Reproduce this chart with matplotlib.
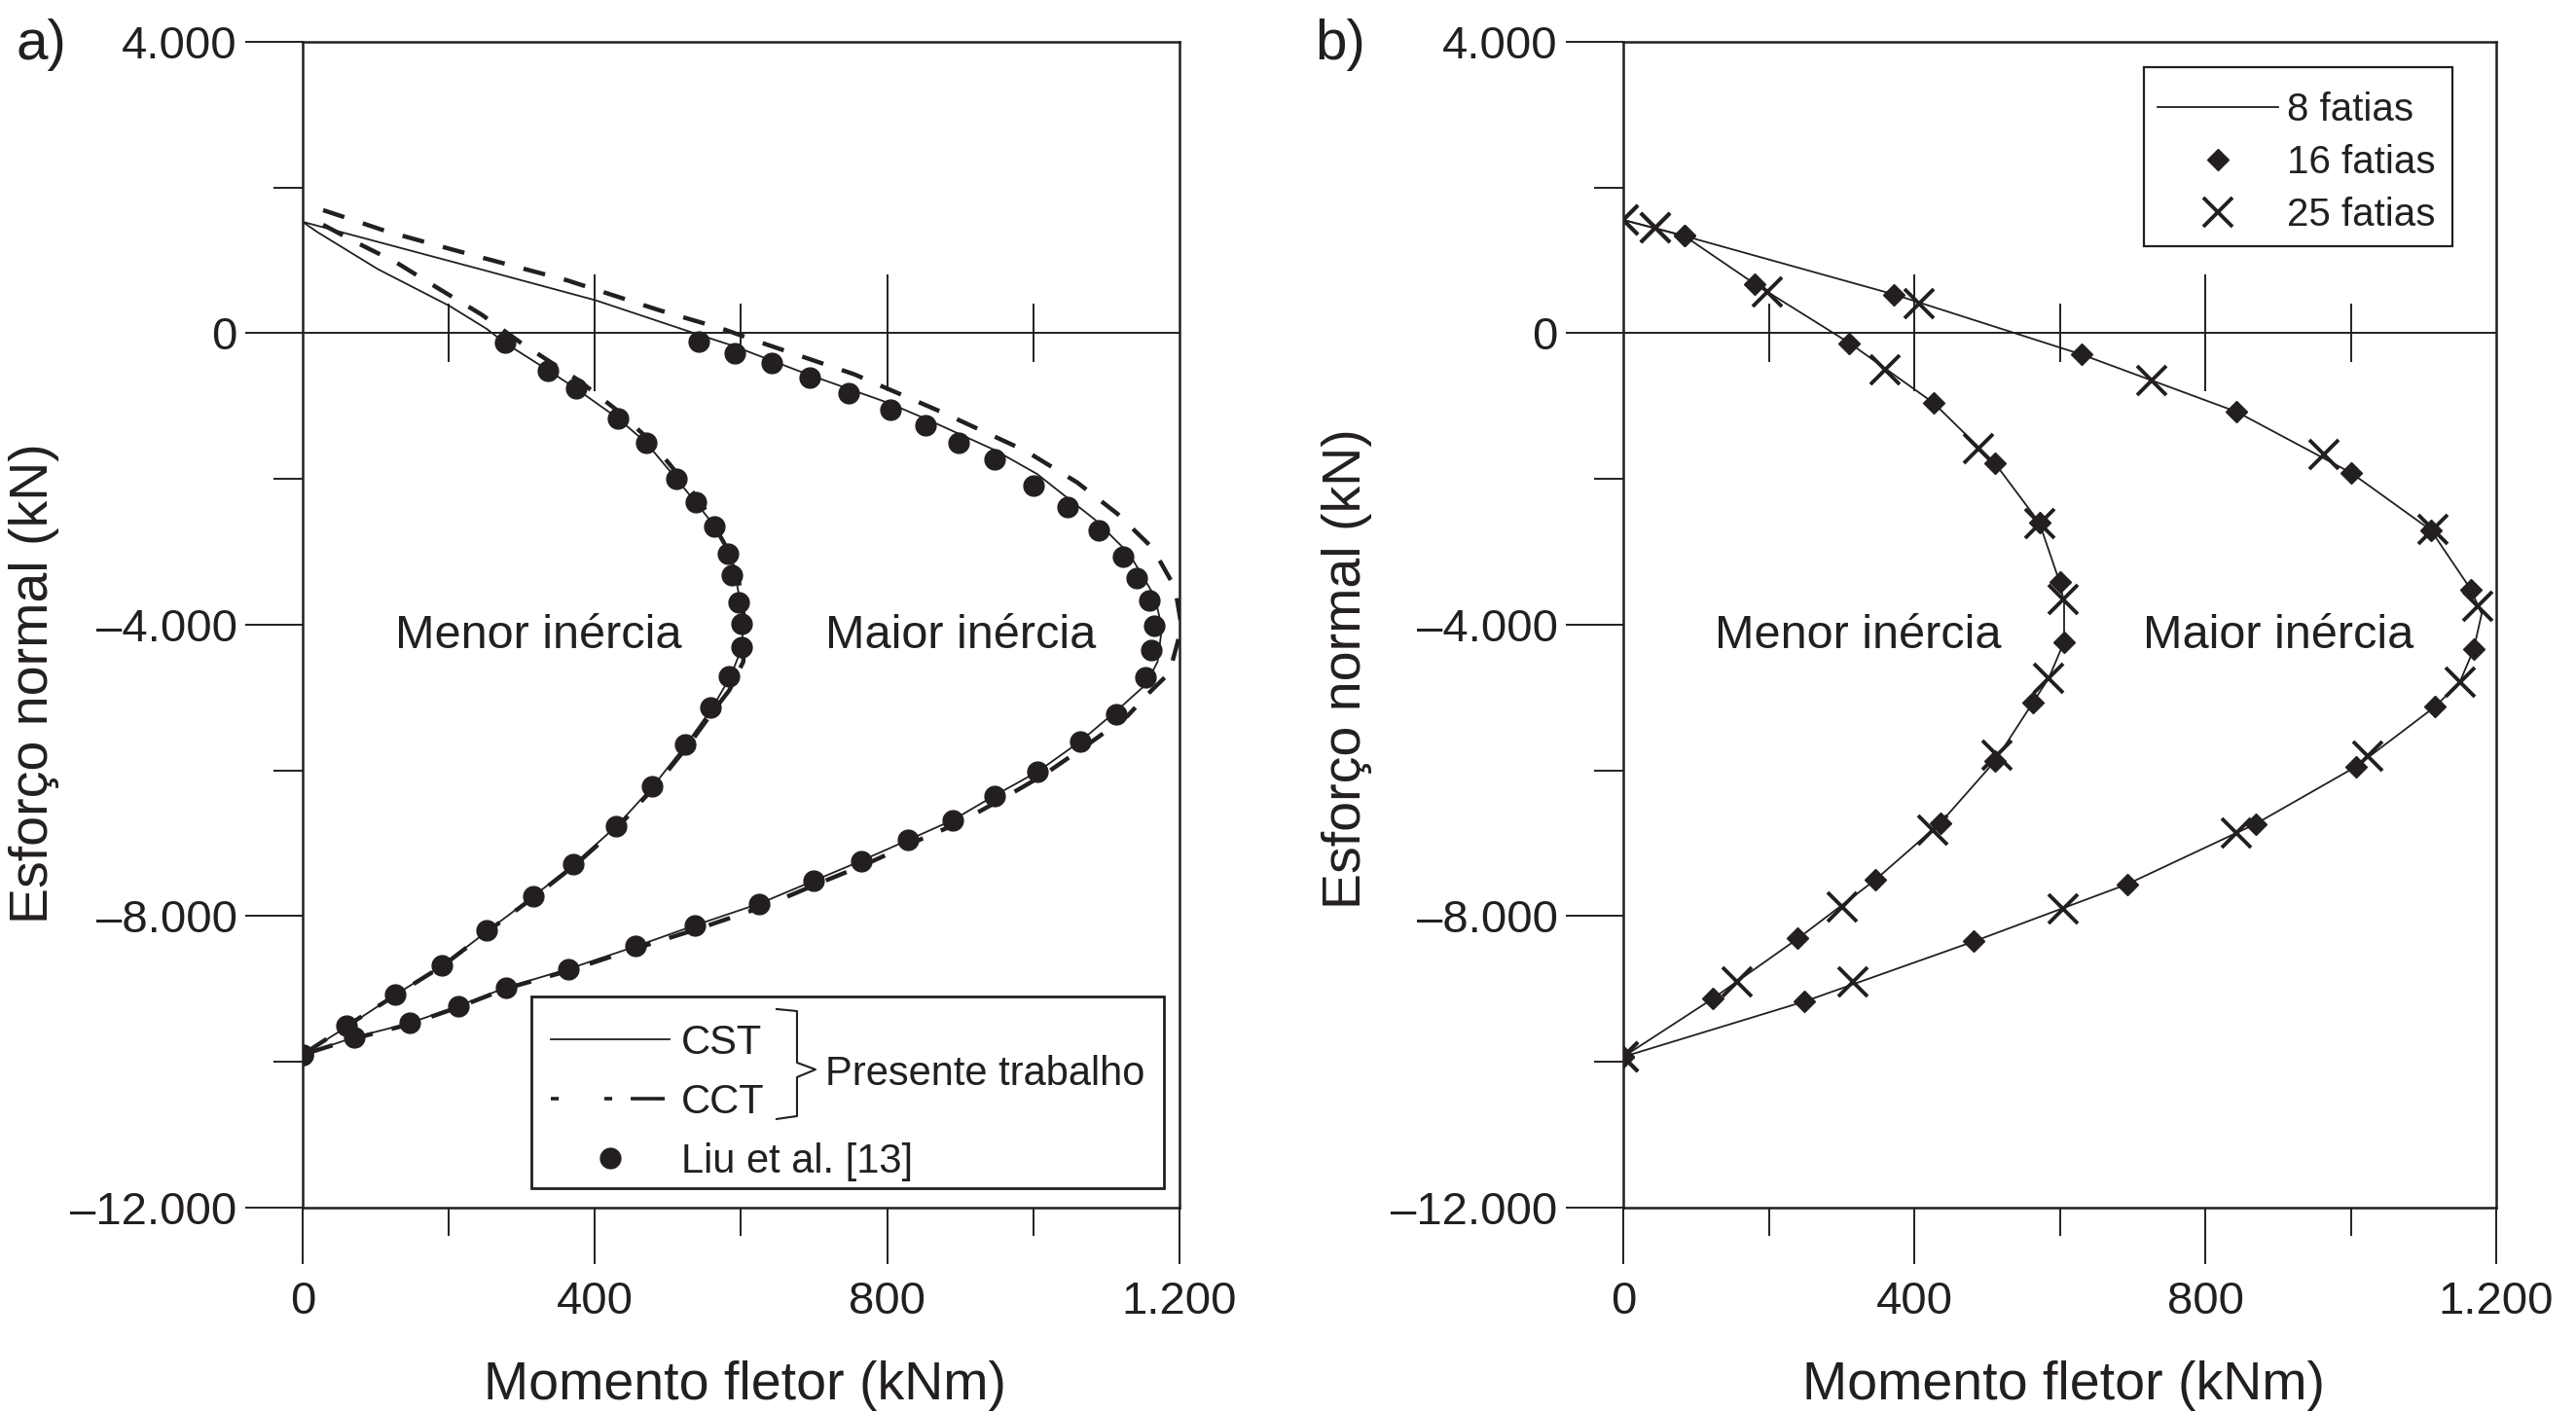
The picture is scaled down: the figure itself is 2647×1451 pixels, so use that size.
import matplotlib
matplotlib.use('Agg')
import matplotlib.pyplot as plt
from matplotlib.lines import Line2D
from matplotlib.patches import Rectangle

plt.rcParams['font.family'] = ['Liberation Sans', 'DejaVu Sans']
plt.rcParams['lines.scale_dashes'] = False

INK = '#231f20'

# ---------------- axes / ticks ----------------
x_major = [0, 400, 800, 1200]
x_major_labels = ['0', '400', '800', '1.200']
x_minor = [200, 600, 1000]
y_major = [4000, 0, -4000, -8000, -12000]
y_major_labels = ['4.000', '0', '\u20134.000', '\u20138.000', '\u201312.000']
y_minor = [2000, -2000, -6000, -10000]
zero_major = [400, 800]
zero_minor = [200, 600, 1000]

# ---------------- panel a data ----------------
liu_menor_M = [277, 336, 374, 431, 470, 511, 538, 564, 582, 588, 597, 601, 601, 583, 558,
               523, 478, 429, 370, 315, 252, 191, 126, 60, 0]
liu_menor_N = [-133, -508, -758, -1164, -1500, -1992, -2320, -2648, -3023, -3320, -3688, -3984,
               -4313, -4703, -5133, -5641, -6211, -6758, -7281, -7727, -8195, -8672, -9078,
               -9508, -9900]

liu_maior_M = [542, 591, 642, 694, 747, 805, 853, 898, 947, 1000, 1047, 1090, 1123, 1141, 1159,
               1165, 1161, 1153, 1113, 1064, 1006, 947, 890, 829, 764, 699, 625, 537, 456, 363,
               279, 213, 146, 70, 0]
liu_maior_N = [-109, -273, -414, -602, -820, -1055, -1266, -1500, -1734, -2086, -2383, -2711,
               -3063, -3359, -3664, -4016, -4352, -4719, -5227, -5602, -6016, -6344, -6680,
               -6953, -7242, -7516, -7828, -8125, -8414, -8727, -8977, -9234, -9469, -9664,
               -9900]

cst_menor_M = [0, 20, 103, 201, 252, 277, 336, 374, 431, 470, 511, 538, 564, 584, 592, 599, 603,
               601, 586, 561, 525, 480, 430, 372, 316, 254, 192, 127, 62, 0]
cst_menor_N = [1530, 1390, 880, 375, 60, -133, -508, -758, -1164, -1500, -1992, -2320, -2648,
               -3023, -3320, -3688, -3984, -4313, -4703, -5133, -5641, -6211, -6758, -7281,
               -7727, -8195, -8672, -9078, -9508, -9900]

cst_maior_M = [0, 250, 401, 534, 589, 691, 801, 856, 947, 1005, 1084, 1131, 1166, 1176, 1170,
               1154, 1115, 1064, 1006, 947, 890, 829, 764, 699, 625, 537, 456, 363, 279, 213,
               146, 70, 0]
cst_maior_N = [1530, 861, 453, 8, -172, -563, -953, -1188, -1602, -1930, -2555, -3023, -3609,
               -4039, -4508, -4820, -5172, -5602, -6016, -6344, -6680, -6953, -7242, -7516,
               -7828, -8125, -8414, -8727, -8977, -9234, -9469, -9664, -9900]

cct_menor_M = [28, 70, 128, 186, 245, 299, 377, 432, 476, 545, 578, 597, 606, 603, 584, 560,
               529, 483, 433, 375, 318, 255, 193, 128, 60, 0]
cct_menor_N = [1489, 1264, 973, 614, 256, -133, -641, -1070, -1477, -2320, -2900, -3400, -4039,
               -4508, -4898, -5211, -5641, -6211, -6758, -7281, -7727, -8195, -8672, -9078,
               -9508, -9900]

cct_maior_M = [28, 55, 115, 179, 245, 362, 487, 574, 629, 755, 872, 990, 1060, 1115, 1163, 1194,
               1203, 1186, 1162, 1129, 1075, 1015, 956, 898, 835, 772, 705, 631, 544, 460, 366,
               279, 213, 146, 70, 0]
cct_maior_N = [1690, 1601, 1399, 1220, 1040, 727, 320, 63, -133, -563, -1070, -1617, -2047,
               -2477, -2945, -3492, -4039, -4664, -4898, -5250, -5641, -6055, -6398, -6719,
               -6992, -7281, -7555, -7867, -8164, -8430, -8742, -8992, -9250, -9484, -9680,
               -9900]

# ---------------- panel b data ----------------
line8_menor_M = [0, 84, 181, 311, 427, 511, 572, 600, 606, 606, 585, 563, 511, 436, 346, 240,
                 123, 0]
line8_menor_N = [1556, 1336, 676, -134, -959, -1784, -2600, -3419, -3700, -4236, -4731, -5069,
                 -5871, -6720, -7505, -8307, -9132, -9930]
line8_maior_M = [0, 84, 372, 630, 843, 1001, 1110, 1165, 1180, 1169, 1150, 1116, 1007, 869, 693,
                 482, 249, 0]
line8_maior_N = [1556, 1336, 534, -291, -1077, -1918, -2700, -3513, -3850, -4338, -4786, -5124,
                 -5949, -6735, -7560, -8346, -9171, -9930]

d16_menor_M = [84, 181, 311, 427, 511, 572, 600, 606, 563, 511, 436, 346, 240, 123, 0]
d16_menor_N = [1336, 676, -134, -959, -1784, -2600, -3419, -4236, -5069, -5871, -6720, -7505,
               -8307, -9132, -9930]
d16_maior_M = [84, 372, 630, 843, 1001, 1110, 1165, 1169, 1116, 1007, 869, 693, 482, 249, 0]
d16_maior_N = [1336, 534, -291, -1077, -1918, -2700, -3513, -4338, -5124, -5949, -6735, -7560,
               -8346, -9171, -9930]

x25_menor_M = [0, 44, 198, 360, 488, 573, 604, 585, 514, 425, 301, 157, 0]
x25_menor_N = [1556, 1454, 574, -503, -1588, -2609, -3647, -4731, -5792, -6814, -7875, -8896,
               -9930]
x25_maior_M = [0, 44, 407, 727, 963, 1113, 1175, 1150, 1023, 843, 604, 316, 0]
x25_maior_N = [1556, 1454, 401, -644, -1666, -2688, -3749, -4786, -5808, -6853, -7898, -8896,
               -9930]

# ---------------- text ----------------
xlabel = 'Momento fletor (kNm)'
ylabel = 'Esfor\u00e7o normal (kN)'
menor_txt = 'Menor in\u00e9rcia'
maior_txt = 'Maior in\u00e9rcia'
legend_a_labels = ['CST', 'CCT', 'Liu et al. [13]']
legend_b_labels = ['8 fatias', '16 fatias', '25 fatias']

XLIM = (0, 1200)
YLIM = (-12000, 4000)

fig = plt.figure(figsize=(26.47, 14.51), dpi=100)
ax_a = fig.add_axes([0.11749, 0.14473, 0.34038, 0.82564])
ax_b = fig.add_axes([0.63015, 0.14473, 0.33888, 0.82564])


def style(ax, ylab_x, ylab_y):
    ax.set_xlim(*XLIM)
    ax.set_ylim(*YLIM)
    for s in ax.spines.values():
        s.set_linewidth(1.8)
        s.set_color(INK)
    ax.set_xticks(x_major)
    ax.set_xticklabels(x_major_labels)
    ax.set_xticks(x_minor, minor=True)
    ax.set_yticks(y_major)
    ax.set_yticklabels(y_major_labels)
    ax.set_yticks(y_minor, minor=True)
    ax.tick_params(which='both', direction='out', width=1.4, color=INK,
                   top=False, right=False, labelsize=34, labelcolor=INK)
    ax.tick_params(axis='x', which='major', length=42, pad=12)
    ax.tick_params(axis='x', which='minor', length=21)
    ax.tick_params(axis='y', which='major', length=42.5, pad=6)
    ax.tick_params(axis='y', which='minor', length=21.6)
    # axis line at N = 0 with crossing ticks
    loc = (0 - YLIM[0]) / (YLIM[1] - YLIM[0])
    sec = ax.secondary_xaxis(loc)
    sec.set_ticks(zero_major)
    sec.set_ticks(zero_minor, minor=True)
    sec.tick_params(which='both', direction='inout', width=1.4, color=INK,
                    labeltop=False, labelbottom=False)
    sec.tick_params(which='major', length=86)
    sec.tick_params(which='minor', length=43)
    for s in sec.spines.values():
        s.set_linewidth(1.4)
        s.set_color(INK)
    ax.set_xlabel(xlabel, fontsize=40, color=INK)
    ax.xaxis.set_label_coords(0.505, -0.131)
    ax.set_ylabel(ylabel, fontsize=40, color=INK)
    ax.yaxis.set_label_coords(ylab_x, ylab_y)
    ax.text(126, -4324, menor_txt, fontsize=35, color=INK, va='baseline', ha='left')
    ax.text(715, -4324, maior_txt, fontsize=35, color=INK, va='baseline', ha='left')


style(ax_a, -0.277, 0.450)
style(ax_b, -0.2876, 0.462)

# ---------------- panel a ----------------
thin = 1.3
cct_dash = (0, (16.5, 14.4))
for M, N in [(cst_menor_M, cst_menor_N), (cst_maior_M, cst_maior_N)]:
    ax_a.plot(M, N, color=INK, lw=thin, zorder=3)
for M, N in [(cct_menor_M, cct_menor_N), (cct_maior_M, cct_maior_N)]:
    ax_a.plot(M, N, color=INK, lw=3.2, linestyle=cct_dash, zorder=3)
for M, N in [(liu_menor_M, liu_menor_N), (liu_maior_M, liu_maior_N)]:
    ax_a.plot(M, N, linestyle='none', marker='o', ms=15, color=INK, mec=INK, zorder=4)

# legend a
ax_a.add_patch(Rectangle((0.2608, 0.0167), 0.7214, 0.1644, transform=ax_a.transAxes,
                         facecolor='white', edgecolor=INK, lw=2, zorder=5))
h_cst = Line2D([], [], color=INK, lw=thin)
h_cct = Line2D([], [], color=INK, lw=2.6,
               linestyle=(0, (5.8, 33.8, 5.8, 13.7, 25.2, 60)), solid_capstyle='round')
h_liu = Line2D([], [], color=INK, linestyle='none', marker='o', ms=15)
leg_a = ax_a.legend([h_cst, h_cct, h_liu], legend_a_labels, loc='upper left',
                    bbox_to_anchor=(0.2830, 0.1578), frameon=False, borderpad=0,
                    borderaxespad=0, handlelength=2.93, handletextpad=0.29,
                    labelspacing=0.5, fontsize=30, numpoints=1, labelcolor=INK)
leg_a.set_zorder(6)
brace_x = [0.5405, 0.5638, 0.5638, 0.5849, 0.5638, 0.5638, 0.5405]
brace_y = [0.1703, 0.1686, 0.1244, 0.1185, 0.1119, 0.0785, 0.0760]
ax_a.add_line(Line2D(brace_x, brace_y, transform=ax_a.transAxes, color=INK, lw=1.5,
                     clip_on=False, zorder=6))
ax_a.text(0.5960, 0.1052, 'Presente trabalho', transform=ax_a.transAxes, fontsize=30,
          color=INK, va='baseline', ha='left', zorder=6)

# ---------------- panel b ----------------
for M, N in [(line8_menor_M, line8_menor_N), (line8_maior_M, line8_maior_N)]:
    ax_b.plot(M, N, color=INK, lw=thin, zorder=3)
for M, N in [(d16_menor_M, d16_menor_N), (d16_maior_M, d16_maior_N)]:
    ax_b.plot(M, N, linestyle='none', marker='D', ms=11.5, color=INK, zorder=4)
for M, N in [(x25_menor_M, x25_menor_N), (x25_maior_M, x25_maior_N)]:
    ax_b.plot(M, N, linestyle='none', marker='x', ms=21, mew=2.8, color=INK, zorder=5)

ax_b.add_patch(Rectangle((0.5964, 0.8247), 0.3534, 0.1536, transform=ax_b.transAxes,
                         facecolor='white', edgecolor=INK, lw=1.6, zorder=5))
h8 = Line2D([], [], color=INK, lw=thin)
h16 = Line2D([], [], color=INK, linestyle='none', marker='D', ms=11.5)
h25 = Line2D([], [], color=INK, linestyle='none', marker='x', ms=21, mew=2.8)
leg_b = ax_b.legend([h8, h16, h25], legend_b_labels, loc='upper left',
                    bbox_to_anchor=(0.6120, 0.9574), frameon=False, borderpad=0,
                    borderaxespad=0, handlelength=3.08, handletextpad=0.22,
                    labelspacing=0.4, fontsize=29, numpoints=1, labelcolor=INK)
leg_b.set_zorder(6)

# panel tags
fig.text(0.0064, 0.958, 'a)', fontsize=42, color=INK, va='baseline', ha='left')
fig.text(0.5104, 0.958, 'b)', fontsize=42, color=INK, va='baseline', ha='left')

fig.savefig('out.png', dpi=100)
